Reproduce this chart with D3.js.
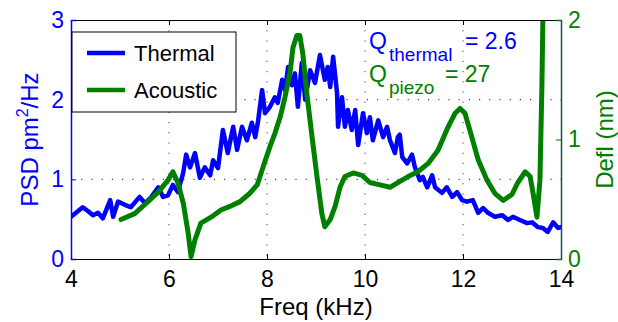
<!DOCTYPE html>
<html>
<head>
<meta charset="utf-8">
<script src="https://cdn.jsdelivr.net/npm/d3@7"></script>
<style>
  body { margin: 0; background: #fff; }
  text { font-family: "Liberation Sans", Arial, sans-serif; }
</style>
</head>
<body>
<div id="chart"></div>
<script>
// Thermal PSD (left axis, pm^2/Hz)
const thermalFreq = [4.0, 4.12, 4.24, 4.35, 4.45, 4.55, 4.65, 4.8, 4.86, 4.96, 5.1, 5.22, 5.4, 5.51, 5.63, 5.78, 5.88, 5.98,
  6.08, 6.18, 6.29, 6.35, 6.43, 6.53, 6.63, 6.73, 6.84, 6.9, 7.0, 7.1, 7.2, 7.31, 7.39, 7.49, 7.59, 7.69, 7.76, 7.82,
  7.9, 7.96, 8.06, 8.16, 8.22, 8.31, 8.37, 8.43, 8.51, 8.57, 8.63, 8.71, 8.78, 8.88, 8.98, 9.08, 9.18, 9.24, 9.29,
  9.35, 9.43, 9.45, 9.53, 9.59, 9.65, 9.73, 9.8, 9.86, 9.96, 10.04, 10.1, 10.16, 10.27, 10.37, 10.45, 10.51, 10.61,
  10.67, 10.71, 10.76, 10.86, 10.96, 11.02, 11.12, 11.18, 11.27, 11.37, 11.43, 11.57, 11.67, 11.78, 11.88, 11.98,
  12.08, 12.2, 12.31, 12.41, 12.51, 12.65, 12.8, 12.92, 13.02, 13.16, 13.31, 13.41, 13.53, 13.63, 13.73, 13.84, 13.94, 14.0];
const thermalPSD = [0.53, 0.59, 0.65, 0.60, 0.55, 0.58, 0.51, 0.74, 0.53, 0.72, 0.68, 0.65, 0.78, 0.70, 0.77, 0.90, 0.78, 0.80,
  0.93, 0.84, 1.08, 1.31, 1.15, 1.33, 1.02, 1.15, 1.05, 1.24, 1.14, 1.62, 1.33, 1.66, 1.37, 1.66, 1.49, 1.71, 1.53, 1.74,
  2.12, 1.83, 1.91, 2.03, 1.96, 2.25, 2.12, 2.41, 2.18, 2.33, 1.91, 2.46, 2.00, 2.37, 2.21, 2.56, 2.25, 2.41, 2.16,
  2.54, 2.08, 1.66, 2.03, 1.66, 1.87, 1.62, 1.87, 1.43, 1.83, 1.58, 1.78, 1.49, 1.74, 1.53, 1.66, 1.49, 1.33,
  1.53, 1.56, 1.28, 1.20, 1.31, 1.15, 0.99, 1.03, 0.90, 1.05, 0.90, 0.83, 0.90, 0.78, 0.84, 0.74,
  0.72, 0.74, 0.58, 0.64, 0.58, 0.53, 0.55, 0.49, 0.53, 0.49, 0.45, 0.46, 0.40, 0.39, 0.34, 0.46, 0.39, 0.40];

// Acoustic deflection (right axis, nm)
const acousticFreq = [5.02, 5.3, 5.57, 5.78, 5.98, 6.08, 6.18, 6.29, 6.39, 6.45, 6.53, 6.65, 6.86, 7.06, 7.24, 7.45, 7.65,
  7.8, 7.92, 8.06, 8.16, 8.27, 8.37, 8.47, 8.53, 8.61, 8.67, 8.73, 8.82, 8.92, 9.02, 9.12, 9.18, 9.29, 9.39, 9.49,
  9.59, 9.76, 9.94, 10.1, 10.31, 10.51, 10.67, 10.88, 11.08, 11.29, 11.49, 11.69, 11.84, 11.94, 12.04, 12.18, 12.31,
  12.49, 12.65, 12.82, 13.0, 13.12, 13.27, 13.37, 13.43, 13.51, 13.57, 13.61, 13.63, 13.66];
const acousticDefl = [0.33, 0.38, 0.48, 0.56, 0.66, 0.73, 0.64, 0.47, 0.22, 0.02, 0.16, 0.30, 0.35, 0.41, 0.44, 0.48, 0.55,
  0.62, 0.77, 0.94, 1.05, 1.19, 1.36, 1.56, 1.77, 1.87, 1.87, 1.72, 1.36, 1.02, 0.69, 0.38, 0.27, 0.33, 0.44, 0.60,
  0.69, 0.72, 0.70, 0.64, 0.62, 0.60, 0.64, 0.69, 0.73, 0.80, 0.91, 1.10, 1.22, 1.26, 1.22, 1.02, 0.83,
  0.66, 0.55, 0.49, 0.54, 0.64, 0.73, 0.69, 0.55, 0.35, 0.66, 1.44, 2.0, 2.4];

const xTicks = [4, 6, 8, 10, 12, 14];
const leftTicks = [0, 1, 2, 3];
const rightTicks = [0, 1, 2];
const legendLabels = ["Thermal", "Acoustic"];

const blue = "#0000ff", green = "#008000";
const width = 618, height = 322;
const margin = { top: 20, right: 57, bottom: 63, left: 71 };
const innerW = width - margin.left - margin.right;
const innerH = height - margin.top - margin.bottom;

const svg = d3.select("#chart").append("svg")
  .attr("width", width)
  .attr("height", height)
  .style("background", "#fff");

const g = svg.append("g").attr("transform", `translate(${margin.left},${margin.top})`);

const x = d3.scaleLinear().domain([4, 14]).range([0, innerW]);
const yL = d3.scaleLinear().domain([0, 3]).range([innerH, 0]);
const yR = d3.scaleLinear().domain([0, 2]).range([innerH, 0]);

svg.append("defs").append("clipPath").attr("id", "clip")
  .append("rect").attr("width", innerW).attr("height", innerH);

// grid
g.append("g").selectAll("line").data(xTicks.slice(1, -1)).enter().append("line")
  .attr("x1", d => x(d)).attr("x2", d => x(d))
  .attr("y1", 0).attr("y2", innerH)
  .attr("stroke", "#444").attr("stroke-width", 1)
  .attr("stroke-dasharray", "1.2,9");
g.append("g").selectAll("line").data([1, 2]).enter().append("line")
  .attr("x1", 0).attr("x2", innerW)
  .attr("y1", d => yL(d)).attr("y2", d => yL(d))
  .attr("stroke", blue).attr("stroke-width", 1)
  .attr("stroke-dasharray", "1.2,9");

// curves
const lineL = d3.line().x(d => x(d[0])).y(d => yL(d[1]));
const lineR = d3.line().x(d => x(d[0])).y(d => yR(d[1]));
const curves = g.append("g").attr("clip-path", "url(#clip)");

curves.append("path")
  .datum(thermalFreq.map((f, i) => [f, thermalPSD[i]]))
  .attr("d", lineL)
  .attr("fill", "none").attr("stroke", blue).attr("stroke-width", 4.5)
  .attr("stroke-linejoin", "round").attr("stroke-linecap", "round");

curves.append("path")
  .datum(acousticFreq.map((f, i) => [f, acousticDefl[i]]))
  .attr("d", lineR)
  .attr("fill", "none").attr("stroke", green).attr("stroke-width", 5)
  .attr("stroke-linejoin", "round").attr("stroke-linecap", "round");

// axes
const fs = "23px";
const xAxis = g.append("g").attr("transform", `translate(0,${innerH})`)
  .call(d3.axisBottom(x).tickValues(xTicks).tickSize(-5).tickPadding(12));
xAxis.select(".domain").attr("stroke", "#000");
xAxis.selectAll("line").attr("stroke", "#000");
xAxis.selectAll("text").attr("font-size", fs).attr("fill", "#000");

g.append("g")
  .call(d3.axisTop(x).tickValues(xTicks).tickSize(-5).tickFormat(""))
  .call(a => a.select(".domain").attr("stroke", "#000"));

const lAxis = g.append("g")
  .call(d3.axisLeft(yL).tickValues(leftTicks).tickSize(-5).tickPadding(7).tickFormat(d3.format("d")));
lAxis.select(".domain").attr("stroke", blue).attr("stroke-width", 1.5);
lAxis.selectAll("line").attr("stroke", blue);
lAxis.selectAll("text").attr("font-size", fs).attr("fill", blue);

const rAxis = g.append("g").attr("transform", `translate(${innerW},0)`)
  .call(d3.axisRight(yR).tickValues(rightTicks).tickSize(-5).tickPadding(7).tickFormat(d3.format("d")));
rAxis.select(".domain").attr("stroke", "#13504f").attr("stroke-width", 1.5);
rAxis.selectAll("line").attr("stroke", green);
rAxis.selectAll("text").attr("font-size", fs).attr("fill", green);

// axis labels
svg.append("text")
  .attr("x", margin.left + innerW / 2).attr("y", 315)
  .attr("text-anchor", "middle").attr("font-size", "24px").attr("fill", "#000")
  .text("Freq (kHz)");

const yl = svg.append("text")
  .attr("transform", `translate(38,${margin.top + innerH / 2}) rotate(-90)`)
  .attr("text-anchor", "middle").attr("font-size", "24px").attr("fill", blue);
yl.append("tspan").text("PSD pm");
yl.append("tspan").attr("font-size", "16px").attr("dy", -10).text("2");
yl.append("tspan").attr("dy", 10).text("/Hz");

svg.append("text")
  .attr("transform", `translate(613,${margin.top + innerH / 2}) rotate(-90)`)
  .attr("text-anchor", "middle").attr("font-size", "24px").attr("fill", green)
  .text("Defl (nm)");

// legend
const leg = svg.append("g");
leg.append("rect").attr("x", 72).attr("y", 32).attr("width", 164).attr("height", 80)
  .attr("fill", "#fff").attr("stroke", "#000").attr("stroke-width", 1);
[blue, green].forEach((c, i) => {
  const yy = 53 + i * 37;
  leg.append("line").attr("x1", 87).attr("x2", 125).attr("y1", yy).attr("y2", yy)
    .attr("stroke", c).attr("stroke-width", 4.5);
  leg.append("text").attr("x", 134).attr("y", yy + 8).attr("font-size", "22px").attr("fill", "#000")
    .text(legendLabels[i]);
});

// Q annotations
function qLabel(sub, val, color, base) {
  svg.append("text").attr("x", 369).attr("y", base).attr("font-size", "23px").attr("fill", color).text("Q");
  svg.append("text").attr("x", 389).attr("y", base + 12).attr("font-size", "19px").attr("fill", color).text(sub);
  svg.append("text").attr("x", sub === "thermal" ? 465 : 445).attr("y", base).attr("font-size", "23px").attr("fill", color).text(val);
}
qLabel("thermal", "= 2.6", blue, 49);
qLabel("piezo", "= 27", green, 82);
</script>
</body>
</html>
